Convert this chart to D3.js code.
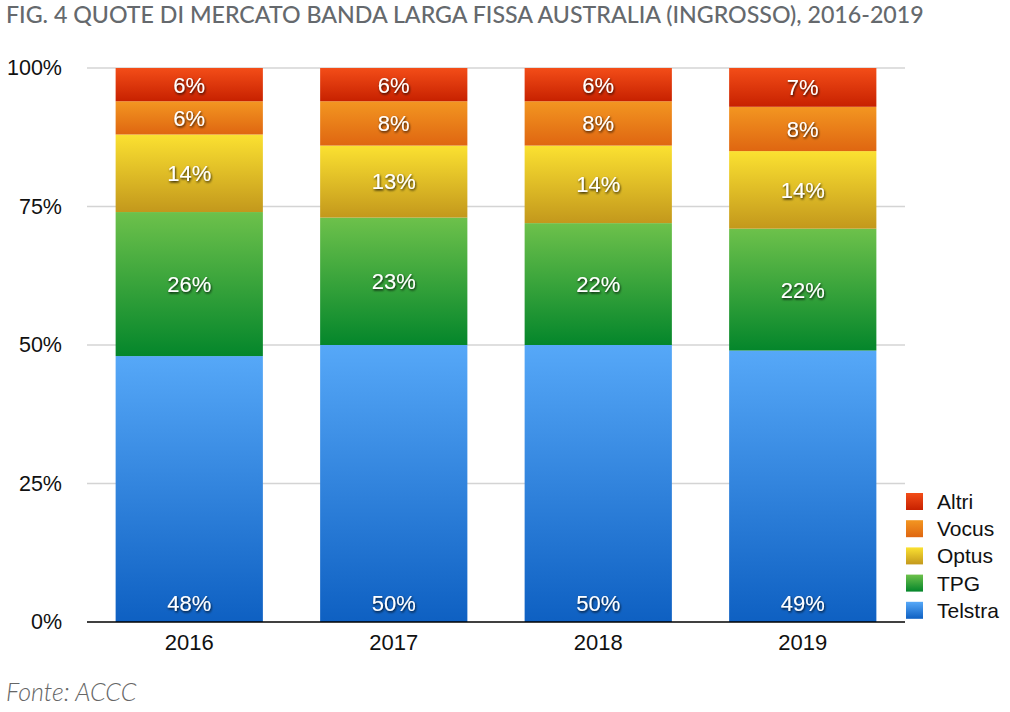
<!DOCTYPE html>
<html>
<head>
<meta charset="utf-8">
<script src="https://cdn.jsdelivr.net/npm/d3@7"></script>
<style>
  body { margin: 0; background: #fff; }
  svg { display: block; }
</style>
</head>
<body>
<div id="grafico"></div>
<script>
// Dati (quote %, ingrosso)
const anni = ['2016', '2017', '2018', '2019'];
const operatori = ['Telstra', 'TPG', 'Optus', 'Vocus', 'Altri'];
const telstra = [48, 50, 50, 49];
const tpg = [26, 23, 22, 22];
const optus = [14, 13, 14, 14];
const vocus = [6, 8, 8, 8];
const altri = [6, 6, 6, 7];
const tickY = [0, 25, 50, 75, 100];

// Colori (alto / basso del gradiente)
const colori = {
    Telstra: ['#56a8f8', '#0e60c2'],
    TPG: ['#6dc14b', '#04862b'],
    Optus: ['#fbe131', '#c3981c'],
    Vocus: ['#f39621', '#df6611'],
    Altri: ['#f34d18', '#c72100']
};

let width = 1010;
let height = 712;
let margin = { top: 68, right: 105, bottom: 90, left: 87 };

let svg = d3.select('#grafico').append('svg')
    .attr('width', width)
    .attr('height', height);

let defs = svg.append('defs');

operatori.forEach(function (op) {
    let g = defs.append('linearGradient')
        .attr('id', 'grad-' + op)
        .attr('x1', 0).attr('y1', 0).attr('x2', 0).attr('y2', 1);
    g.append('stop').attr('offset', '0%').attr('stop-color', colori[op][0]);
    g.append('stop').attr('offset', '100%').attr('stop-color', colori[op][1]);
});

// ombra per le etichette bianche
let ombra = defs.append('filter').attr('id', 'ombra')
    .attr('x', '-20%').attr('y', '-20%').attr('width', '140%').attr('height', '140%');
ombra.append('feDropShadow')
    .attr('dx', 0.8).attr('dy', 1.4).attr('stdDeviation', 1)
    .attr('flood-color', '#000').attr('flood-opacity', 0.85);

// tabella per lo stack
let serie = { Telstra: telstra, TPG: tpg, Optus: optus, Vocus: vocus, Altri: altri };
let tabella = anni.map(function (a, i) {
    let riga = { anno: a };
    operatori.forEach(function (op) { riga[op] = serie[op][i]; });
    return riga;
});
let stack = d3.stack().keys(operatori)(tabella);

// Scale
let x = d3.scaleBand()
    .domain(anni)
    .range([margin.left, width - margin.right])
    .paddingInner(0.28)
    .paddingOuter(0.14);

let y = d3.scaleLinear()
    .domain([0, 100])
    .range([height - margin.bottom, margin.top]);

// Titolo
svg.append('text')
    .attr('x', 6)
    .attr('y', 23)
    .attr('fill', '#65696d')
    .style('font-family', 'Lato, "Open Sans", sans-serif')
    .style('font-size', '23.2px')
    .style('font-weight', 500)
    .text('FIG. 4 QUOTE DI MERCATO BANDA LARGA FISSA AUSTRALIA (INGROSSO), 2016-2019');

// Griglia
svg.append('g')
    .selectAll('line')
    .data(tickY.filter(function (d) { return d > 0; }))
    .join('line')
    .attr('x1', margin.left)
    .attr('x2', width - margin.right)
    .attr('y1', function (d) { return y(d); })
    .attr('y2', function (d) { return y(d); })
    .attr('stroke', '#d4d4d4')
    .attr('stroke-width', 1.5);

// Asse Y
let assey = svg.append('g')
    .attr('transform', `translate(${margin.left}, 0)`)
    .call(d3.axisLeft(y).tickValues(tickY).tickSize(0).tickPadding(25)
        .tickFormat(function (d) { return d + '%'; }));
assey.select('.domain').remove();
assey.selectAll('text')
    .attr('fill', '#111')
    .style('font-family', '"Liberation Sans", Arial, sans-serif')
    .style('font-size', '21.5px');

// Barre
let gruppi = svg.append('g')
    .selectAll('g')
    .data(stack)
    .join('g')
    .attr('fill', function (d) { return `url(#grad-${d.key})`; });

gruppi.selectAll('rect')
    .data(function (d) { return d; })
    .join('rect')
    .attr('x', function (d) { return x(d.data.anno); })
    .attr('y', function (d) { return y(d[1]); })
    .attr('width', x.bandwidth())
    .attr('height', function (d) { return y(d[0]) - y(d[1]); });

// Etichette
let etichette = svg.append('g')
    .attr('filter', 'url(#ombra)')
    .style('font-family', '"Liberation Sans", Arial, sans-serif')
    .style('font-size', '22px')
    .attr('fill', '#fff')
    .attr('text-anchor', 'middle');

stack.forEach(function (s) {
    etichette.selectAll(null)
        .data(s)
        .join('text')
        .attr('x', function (d) { return x(d.data.anno) + x.bandwidth() / 2; })
        .attr('y', function (d) {
            // Telstra in basso, gli altri al centro
            if (s.key === 'Telstra') return y(d[0]) - 11;
            return (y(d[0]) + y(d[1])) / 2;
        })
        .attr('dy', s.key === 'Telstra' ? 0 : '0.36em')
        .text(function (d) { return (d[1] - d[0]) + '%'; });
});

// Asse X
let assex = svg.append('g')
    .attr('transform', `translate(0, ${y(0)})`)
    .call(d3.axisBottom(x).tickSize(0).tickPadding(12));
assex.select('.domain')
    .attr('stroke', '#000')
    .attr('stroke-width', 1.6)
    .attr('d', `M${margin.left},0H${width - margin.right}`);
assex.selectAll('text')
    .attr('fill', '#111')
    .style('font-family', '"Liberation Sans", Arial, sans-serif')
    .style('font-size', '22px');

// Legenda
let legenda = svg.append('g')
    .attr('transform', 'translate(906, 493)');

let voci = legenda.selectAll('g')
    .data(operatori.slice().reverse())
    .join('g')
    .attr('transform', function (d, i) { return `translate(0, ${i * 27.2})`; });

voci.append('rect')
    .attr('width', 17)
    .attr('height', 17)
    .attr('fill', function (d) { return `url(#grad-${d})`; });

voci.append('text')
    .attr('x', 31)
    .attr('y', 8.5)
    .attr('dy', '0.36em')
    .attr('fill', '#111')
    .style('font-family', '"Liberation Sans", Arial, sans-serif')
    .style('font-size', '21px')
    .text(function (d) { return d; });

// Fonte
svg.append('text')
    .attr('x', 6)
    .attr('y', 701)
    .attr('fill', '#666')
    .style('font-family', 'Lato, "Open Sans", sans-serif')
    .style('font-style', 'italic')
    .style('font-size', '25px')
    .style('font-weight', 300)
    .text('Fonte: ACCC');
</script>
</body>
</html>
